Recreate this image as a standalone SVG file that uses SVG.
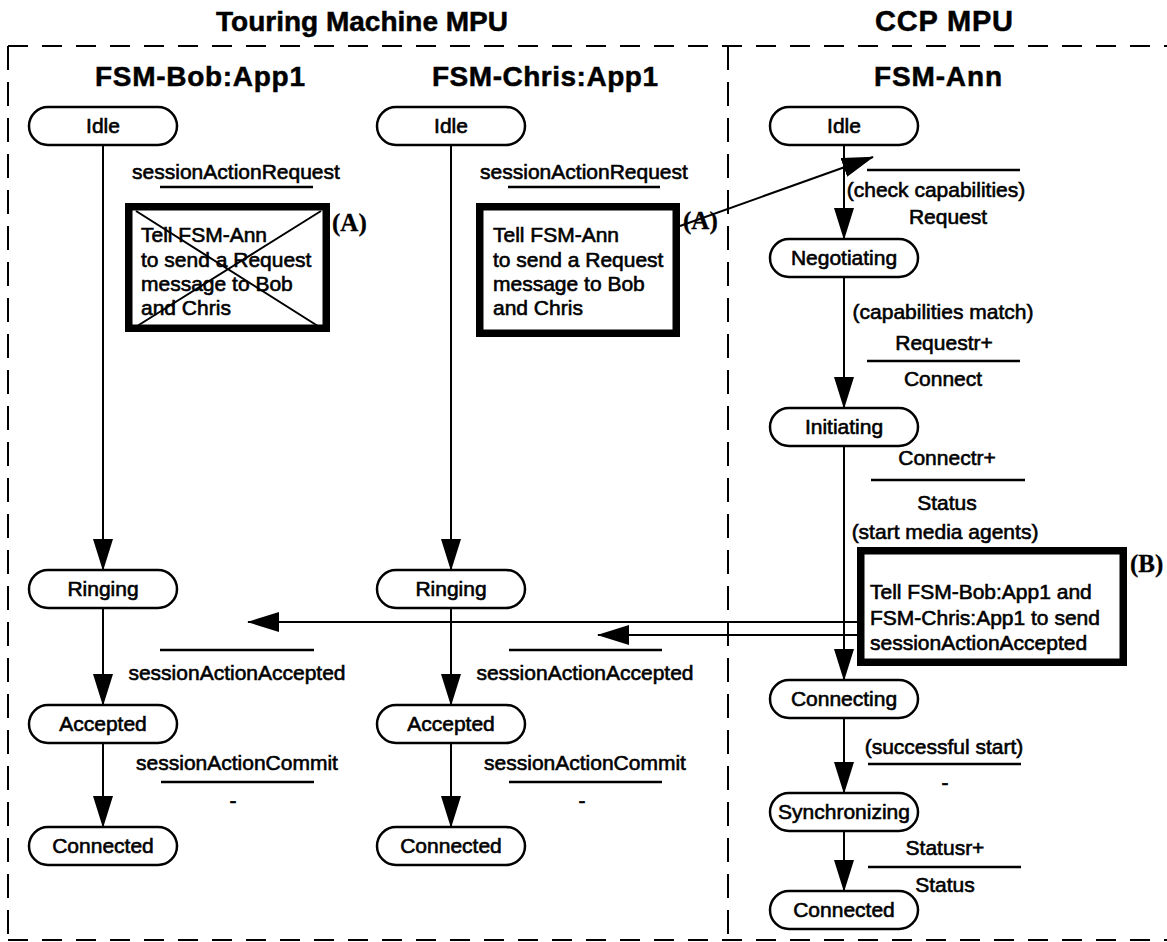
<svg xmlns="http://www.w3.org/2000/svg" width="1167" height="942" viewBox="0 0 1167 942">
<defs>
  <marker id="ah" markerUnits="userSpaceOnUse" markerWidth="32" markerHeight="20" refX="31" refY="10" orient="auto">
    <path d="M0,0 L32,10 L0,20 Z" fill="#000"/>
  </marker>
</defs>
<style>
  .t{font-family:"Liberation Sans",Arial,Helvetica,sans-serif;font-size:21px;fill:#000;stroke:#000;stroke-width:0.6}
  .m{text-anchor:middle}
  .h{font-family:"Liberation Sans",Arial,Helvetica,sans-serif;font-weight:bold;fill:#000;stroke:#000;stroke-width:0.5;text-anchor:middle}
  .tag{font-family:"Liberation Serif","Times New Roman",serif;font-weight:bold;font-size:25px;fill:#000;stroke:#000;stroke-width:0.3}
  .st{fill:#fff;stroke:#000;stroke-width:2.5}
  .box{fill:#fff;stroke:#000;stroke-width:7.5}
  .ln{stroke:#000;stroke-width:2;fill:none}
  .arr{stroke:#000;stroke-width:2;fill:none;marker-end:url(#ah)}
  .ul{stroke:#000;stroke-width:2.5}
  .dh{stroke:#000;stroke-width:2;fill:none;stroke-dasharray:20 14}
  .dv{stroke:#000;stroke-width:2;fill:none;stroke-dasharray:24 12}
</style>
<rect width="1167" height="942" fill="#fff"/>

<!-- processor titles -->
<text class="h" x="362" y="31" font-size="28" textLength="292">Touring Machine MPU</text>
<text class="h" x="944" y="31" font-size="29" textLength="138">CCP MPU</text>

<!-- dashed processor boundaries -->
<g id="frame">
  <path class="dh" d="M8,46 H1167"/>
  <path class="dv" d="M8,46 V940"/>
  <path class="dh" d="M8,940 H1167" stroke-width="2.5"/>
  <path class="dv" d="M728,46 V942"/>
</g>

<!-- machine headings -->
<text class="h" x="200" y="86" font-size="28" textLength="210">FSM-Bob:App1</text>
<text class="h" x="545" y="86" font-size="28" textLength="226">FSM-Chris:App1</text>
<text class="h" x="938" y="86" font-size="28" textLength="128">FSM-Ann</text>

<!-- FSM-Bob:App1 states -->
<g id="bob-idle"><rect class="st" x="29" y="107" width="148" height="38" rx="19"/><text class="t m" x="103" y="133">Idle</text></g>
<g id="bob-ringing"><rect class="st" x="29" y="570" width="148" height="38" rx="19"/><text class="t m" x="103" y="596">Ringing</text></g>
<g id="bob-accepted"><rect class="st" x="29" y="705" width="148" height="38" rx="19"/><text class="t m" x="103" y="731">Accepted</text></g>
<g id="bob-connected"><rect class="st" x="29" y="827" width="148" height="38" rx="19"/><text class="t m" x="103" y="853">Connected</text></g>

<!-- FSM-Chris:App1 states -->
<g id="chris-idle"><rect class="st" x="377" y="107" width="148" height="38" rx="19"/><text class="t m" x="451" y="133">Idle</text></g>
<g id="chris-ringing"><rect class="st" x="377" y="570" width="148" height="38" rx="19"/><text class="t m" x="451" y="596">Ringing</text></g>
<g id="chris-accepted"><rect class="st" x="377" y="705" width="148" height="38" rx="19"/><text class="t m" x="451" y="731">Accepted</text></g>
<g id="chris-connected"><rect class="st" x="377" y="827" width="148" height="38" rx="19"/><text class="t m" x="451" y="853">Connected</text></g>

<!-- FSM-Ann states -->
<g id="ann-idle"><rect class="st" x="770" y="107" width="148" height="38" rx="19"/><text class="t m" x="844" y="133">Idle</text></g>
<g id="ann-negotiating"><rect class="st" x="770" y="239" width="148" height="38" rx="19"/><text class="t m" x="844" y="265">Negotiating</text></g>
<g id="ann-initiating"><rect class="st" x="770" y="408" width="148" height="38" rx="19"/><text class="t m" x="844" y="434">Initiating</text></g>
<g id="ann-connecting"><rect class="st" x="770" y="680" width="148" height="38" rx="19"/><text class="t m" x="844" y="706">Connecting</text></g>
<g id="ann-synchronizing"><rect class="st" x="770" y="793" width="148" height="38" rx="19"/><text class="t m" x="844" y="819">Synchronizing</text></g>
<g id="ann-connected"><rect class="st" x="770" y="891" width="148" height="38" rx="19"/><text class="t m" x="844" y="917">Connected</text></g>

<!-- action box (A), withdrawn in FSM-Bob:App1 -->
<g id="bob-action-a">
  <rect class="box" x="128.75" y="206.75" width="197.5" height="121.5"/>
  <text class="t" x="141"><tspan x="141" y="242">Tell FSM-Ann</tspan><tspan x="141" y="267">to send a Request</tspan><tspan x="141" y="291">message to Bob</tspan><tspan x="141" y="315">and Chris</tspan></text>
  <path class="ln" stroke-width="1.5" d="M136,211 L321,328 M321,211 L134,328"/>
  <text class="tag" x="332" y="231">(A)</text>
</g>

<!-- action box (A) in FSM-Chris:App1 -->
<g id="chris-action-a">
  <rect class="box" x="479.75" y="206.75" width="196.5" height="126.5"/>
  <text class="t" x="493"><tspan x="493" y="242">Tell FSM-Ann</tspan><tspan x="493" y="267">to send a Request</tspan><tspan x="493" y="291">message to Bob</tspan><tspan x="493" y="315">and Chris</tspan></text>
  <text class="tag" x="683" y="229">(A)</text>
</g>

<!-- action box (B) in FSM-Ann -->
<g id="ann-action-b">
  <rect class="box" x="860.75" y="550.75" width="262.5" height="111.5"/>
  <text class="t" x="870"><tspan x="870" y="599">Tell FSM-Bob:App1 and</tspan><tspan x="870" y="625">FSM-Chris:App1 to send</tspan><tspan x="870" y="650">sessionActionAccepted</tspan></text>
  <text class="tag" x="1130" y="572">(B)</text>
</g>

<!-- transition labels: FSM-Bob:App1 -->
<g id="bob-labels">
  <text class="t m" x="236" y="179">sessionActionRequest</text>
  <path class="ul" d="M160,187 H313"/>
  <path class="ul" d="M160,650 H314"/>
  <text class="t m" x="237" y="680">sessionActionAccepted</text>
  <text class="t m" x="237" y="770">sessionActionCommit</text>
  <path class="ul" d="M161,782 H314"/>
  <text class="t m" x="233" y="808">-</text>
</g>

<!-- transition labels: FSM-Chris:App1 -->
<g id="chris-labels">
  <text class="t m" x="584" y="179">sessionActionRequest</text>
  <path class="ul" d="M508,187 H660"/>
  <path class="ul" d="M509,650 H662"/>
  <text class="t m" x="585" y="680">sessionActionAccepted</text>
  <text class="t m" x="585" y="770">sessionActionCommit</text>
  <path class="ul" d="M509,782 H662"/>
  <text class="t m" x="582" y="808">-</text>
</g>

<!-- transition labels: FSM-Ann -->
<g id="ann-labels">
  <path class="ul" d="M867,170 H1020"/>
  <text class="t m" x="936" y="197">(check capabilities)</text>
  <text class="t m" x="948" y="224">Request</text>
  <text class="t m" x="943" y="319">(capabilities match)</text>
  <text class="t m" x="944" y="350">Requestr+</text>
  <path class="ul" d="M867,361 H1020"/>
  <text class="t m" x="943" y="386">Connect</text>
  <text class="t m" x="947" y="465">Connectr+</text>
  <path class="ul" d="M871,480 H1025"/>
  <text class="t m" x="947" y="510">Status</text>
  <text class="t m" x="945" y="539">(start media agents)</text>
  <text class="t m" x="944" y="754">(successful start)</text>
  <path class="ul" d="M868,764 H1021"/>
  <text class="t m" x="945" y="790">-</text>
  <text class="t m" x="945" y="855">Statusr+</text>
  <path class="ul" d="M868,867 H1021"/>
  <text class="t m" x="945" y="892">Status</text>
</g>

<!-- transitions and messages -->
<g id="connectors">
  <path class="arr" d="M103,145 V570"/>
  <path class="arr" d="M103,608 V705"/>
  <path class="arr" d="M103,743 V827"/>
  <path class="arr" d="M451,145 V570"/>
  <path class="arr" d="M451,608 V705"/>
  <path class="arr" d="M451,743 V827"/>
  <path class="arr" d="M844,145 V239"/>
  <path class="arr" d="M844,277 V408"/>
  <path class="arr" d="M844,446 V680"/>
  <path class="arr" d="M844,718 V793"/>
  <path class="arr" d="M844,831 V891"/>
  <path class="arr" d="M680,226 L873,157"/>
  <path class="arr" d="M857,622 H248"/>
  <path class="arr" d="M857,635 H598"/>
</g>
</svg>
